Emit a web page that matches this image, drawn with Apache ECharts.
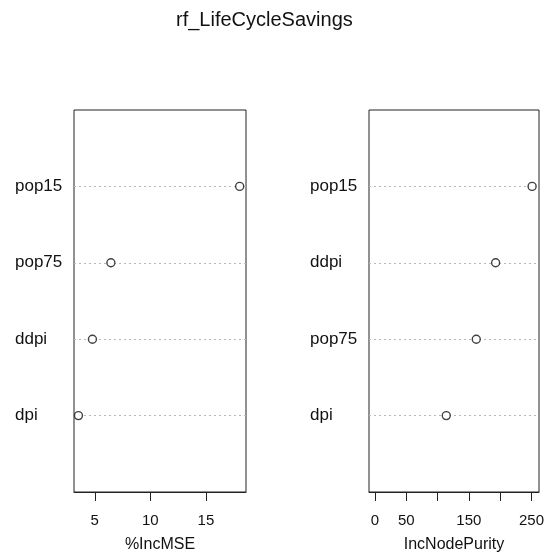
<!DOCTYPE html>
<html>
<head>
<meta charset="utf-8">
<script src="https://cdn.jsdelivr.net/npm/echarts@6/dist/echarts.min.js"></script>
<style>
  html, body { margin: 0; padding: 0; background: #fff; }
  #chart { width: 547px; height: 558px; }
</style>
</head>
<body>
<div id="chart"></div>
<script>
// Variable importance of the random forest fitted on LifeCycleSavings
const titleText = 'rf_LifeCycleSavings';

// Panel 1: %IncMSE (bottom to top)
const mseNames = ['dpi', 'ddpi', 'pop75', 'pop15'];
const mseValues = [3.53, 4.79, 6.45, 18.04];
const mseTicks = [5, 10, 15];
const mseLabel = '%IncMSE';

// Panel 2: IncNodePurity (bottom to top)
const purityNames = ['dpi', 'pop75', 'ddpi', 'pop15'];
const purityValues = [113.9, 161.8, 192.7, 251.0];
const purityTicks = [0, 50, 100, 150, 200, 250];
const purityTickLabels = [0, 50, 150, 250];
const purityLabel = 'IncNodePurity';

const FONT = '"Liberation Sans", Arial, sans-serif';
const INK = '#111';

function xAxisFor(gridIndex, min, max, ticks, labels, name) {
  return {
    type: 'value', gridIndex, min, max, name,
    nameLocation: 'middle', nameGap: 45,
    nameTextStyle: { fontFamily: FONT, fontSize: 16, color: INK },
    axisLine: { show: true, lineStyle: { color: '#222', width: 1 } },
    axisTick: { show: true, inside: false, length: 9, customValues: ticks,
                lineStyle: { color: '#222', width: 1 } },
    axisLabel: { show: true, customValues: labels, margin: 21,
                 fontFamily: FONT, fontSize: 15, color: INK },
    splitLine: { show: false }
  };
}

function yAxisFor(gridIndex, names) {
  return {
    type: 'value', gridIndex, min: 0, max: names.length + 1, interval: 1,
    axisLine: { show: false },
    axisTick: { show: false },
    axisLabel: {
      show: true, align: 'left', margin: 59,
      fontFamily: FONT, fontSize: 17, color: INK,
      showMinLabel: false, showMaxLabel: false,
      formatter: v => names[v - 1] || ''
    },
    splitLine: {
      show: true, showMinLine: false, showMaxLine: false,
      lineStyle: { color: '#b8b8b8', width: 1, type: [2, 3] }
    }
  };
}

function dots(xi, values) {
  return {
    type: 'scatter', xAxisIndex: xi, yAxisIndex: xi,
    symbol: 'circle', symbolSize: 8,
    itemStyle: { color: '#fff', borderColor: '#111', borderWidth: 1.4 },
    data: values.map((v, i) => [v, i + 1]),
    silent: true, z: 5
  };
}

const chart = echarts.init(document.getElementById('chart'), null, { renderer: 'canvas' });
chart.setOption({
  animation: false,
  backgroundColor: '#fff',
  title: {
    text: titleText, left: 176, top: 10, padding: 0,
    textStyle: { fontFamily: FONT, fontSize: 20, fontWeight: 'normal', color: INK }
  },
  grid: [
    { left: 74, right: 301, top: 110, bottom: 63, show: true,
      borderColor: '#222', borderWidth: 1, backgroundColor: 'transparent' },
    { left: 369, right: 6, top: 110, bottom: 63, show: true,
      borderColor: '#222', borderWidth: 1, backgroundColor: 'transparent' }
  ],
  xAxis: [
    xAxisFor(0, 3.13, 18.61, mseTicks, mseTicks, mseLabel),
    xAxisFor(1, -9.5, 262, purityTicks, purityTickLabels, purityLabel)
  ],
  yAxis: [yAxisFor(0, mseNames), yAxisFor(1, purityNames)],
  series: [dots(0, mseValues), dots(1, purityValues)]
});
</script>
</body>
</html>
